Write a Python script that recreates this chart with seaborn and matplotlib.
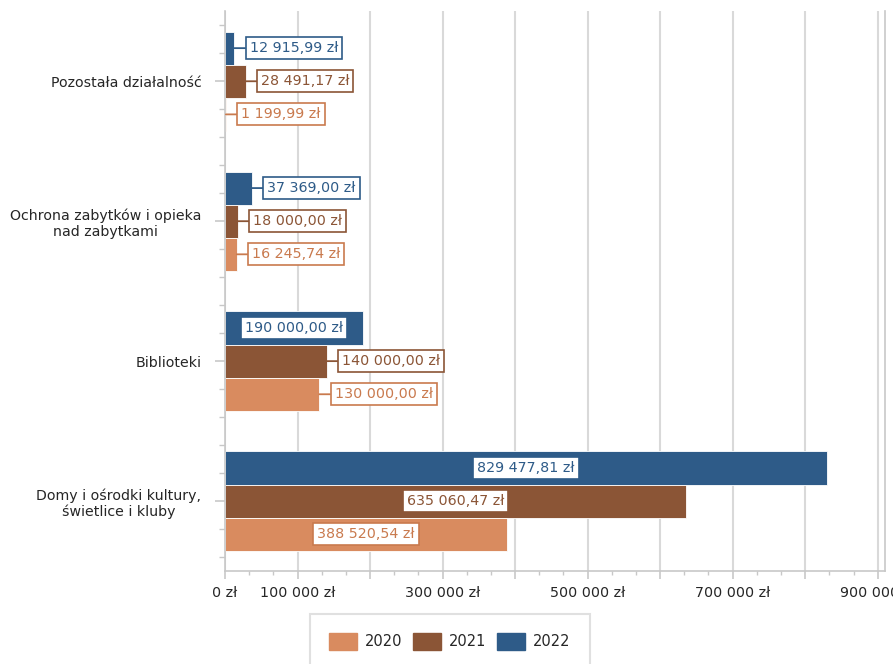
import numpy as np
import pandas as pd
import matplotlib
matplotlib.use('Agg')
import matplotlib.pyplot as plt
import seaborn as sns
from matplotlib.ticker import MultipleLocator, FuncFormatter, FixedLocator
from matplotlib.patches import Patch

# dane
kategorie = ['Pozostała działalność',
             'Ochrona zabytków i opieka\nnad zabytkami',
             'Biblioteki',
             'Domy i ośrodki kultury,\nświetlice i kluby']
lata = ['2020', '2021', '2022']
wydatki_2020 = [1199.99, 16245.74, 130000.00, 388520.54]
wydatki_2021 = [28491.17, 18000.00, 140000.00, 635060.47]
wydatki_2022 = [12915.99, 37369.00, 190000.00, 829477.81]
etykiety_osi = [0, 100000, 300000, 500000, 700000, 900000]

kolory = {'2020': '#D98B5F', '2021': '#8B5536', '2022': '#2E5B88'}
kolory_tekstu = {'2020': '#C97A4E', '2021': '#8B5536', '2022': '#2E5B88'}

df = pd.DataFrame({
    'kategoria': kategorie * 3,
    'rok': ['2020'] * 4 + ['2021'] * 4 + ['2022'] * 4,
    'kwota': wydatki_2020 + wydatki_2021 + wydatki_2022,
})

sns.set_style('white')
plt.rcParams['font.family'] = ['DejaVu Sans']
plt.rcParams['font.size'] = 10.5

fig, ax = plt.subplots(figsize=(8.93, 6.64), dpi=100)
fig.subplots_adjust(left=0.252, right=0.991, top=0.983, bottom=0.140)

kolejnosc = ['2022', '2021', '2020']
sns.barplot(data=df, y='kategoria', x='kwota', hue='rok', order=kategorie,
            hue_order=kolejnosc, palette=kolory, saturation=1, orient='h', width=0.71,
            edgecolor='white', linewidth=0.6, errorbar=None, legend=False, ax=ax)


def zl(v, dec=2):
    s = f"{v:,.{dec}f}".replace(',', ' ').replace('.', ',')
    return s + ' zł'


# etykiety wartości
for cont, rok in zip(ax.containers, kolejnosc):
    for bar in cont:
        v = bar.get_width()
        y = bar.get_y() + bar.get_height() / 2
        box = dict(boxstyle='square,pad=0.28', fc='white', ec=kolory_tekstu[rok], lw=1.2)
        if v > 180000:
            ax.text(v / 2, y, zl(v), ha='center', va='center', color=kolory_tekstu[rok],
                    fontsize=10.3, bbox=box)
        else:
            ax.annotate(zl(v), xy=(v, y), xytext=(11, 0), textcoords='offset points',
                        ha='left', va='center', color=kolory_tekstu[rok], fontsize=10.3,
                        bbox=box,
                        arrowprops=dict(arrowstyle='-', color=kolory_tekstu[rok], lw=1.3,
                                        shrinkA=0, shrinkB=0))

# osie
ax.set_xlim(0, 910000)
ax.set_ylim(3.5, -0.5)
ax.xaxis.set_major_locator(MultipleLocator(100000))
ax.xaxis.set_minor_locator(MultipleLocator(100000 / 3))
ax.xaxis.set_major_formatter(FuncFormatter(
    lambda x, p: zl(x, 0) if round(x) in etykiety_osi else ''))
ax.yaxis.set_minor_locator(FixedLocator(
    [c + d for c in range(4) for d in (-0.4, -0.2, 0.2, 0.4)]))

ax.xaxis.grid(True, color='#D9D9D9', lw=1.5)
ax.set_axisbelow(True)
ax.set_xlabel('')
ax.set_ylabel('')

for s in ['left', 'bottom', 'right']:
    ax.spines[s].set_color('#C8C8C8')
    ax.spines[s].set_linewidth(1.2)
ax.spines['top'].set_visible(False)

ax.tick_params(axis='x', which='major', length=6, width=1.2, color='#C8C8C8',
               labelcolor='#262626', labelsize=10.3, pad=5, bottom=True)
ax.tick_params(axis='x', which='minor', length=3, width=1, color='#C8C8C8', bottom=True)
ax.tick_params(axis='y', which='major', length=7, width=1.2, color='#C8C8C8',
               labelcolor='#262626', labelsize=10.2, pad=10, left=True)
ax.tick_params(axis='y', which='minor', length=4, width=1, color='#C8C8C8', left=True)
for lbl in ax.get_yticklabels():
    lbl.set_multialignment('center')

# legenda
uchwyty = [Patch(facecolor=kolory[r], edgecolor=kolory[r], lw=1) for r in lata]
leg = fig.legend(uchwyty, lata, loc='upper center', bbox_to_anchor=(450 / 893, 1 - 614 / 664),
                 ncol=3, frameon=True, fancybox=False, edgecolor='#D9D9D9', fontsize=10.5,
                 borderpad=1.3, borderaxespad=0, columnspacing=0.75, handletextpad=0.55,
                 handlelength=1.9, handleheight=1.4)
leg.get_frame().set_linewidth(1.5)
for t in leg.get_texts():
    t.set_color('#262626')

plt.savefig('out.png', dpi=100)
